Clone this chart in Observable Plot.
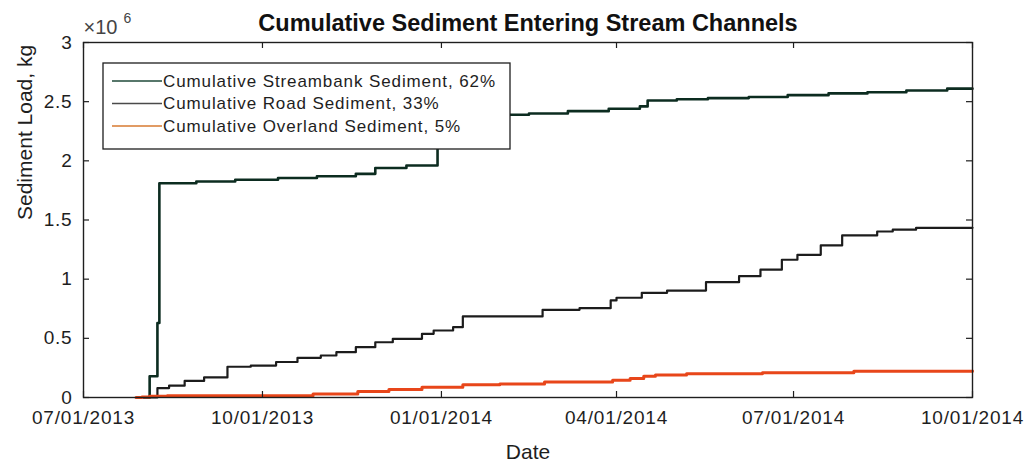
<!DOCTYPE html>
<html><head><meta charset="utf-8">
<script src="https://cdn.jsdelivr.net/npm/d3@7"></script>
<script src="https://cdn.jsdelivr.net/npm/@observablehq/plot@0.6"></script>
<style>
body{margin:0;background:#fff}
#chart{position:relative;width:1032px;height:461px}
#chart g[aria-label="x-axis tick label"] text{letter-spacing:0.8px}
#chart g[aria-label="y-axis tick label"] text{letter-spacing:0.8px}
</style>
</head><body><div id="chart"></div>
<script>
// ---- data ----
const xTickDates = ["2013-07-01","2013-10-01","2014-01-01","2014-04-01","2014-07-01","2014-10-01"];
const yTickValues = [0, 0.5, 1, 1.5, 2, 2.5, 3];
const seriesNames = ["Cumulative Streambank Sediment, 62%","Cumulative Road Sediment, 33%","Cumulative Overland Sediment, 5%"];

const streambankDates = ["2013-08-01","2013-08-04","2013-08-08","2013-08-09","2013-08-28","2013-09-17","2013-10-09","2013-10-29","2013-11-18","2013-11-28","2013-12-14","2013-12-30","2014-02-15","2014-03-07","2014-03-28","2014-04-13","2014-04-17","2014-05-02","2014-05-18","2014-06-08","2014-06-28","2014-07-19","2014-08-08","2014-08-28","2014-09-18","2014-10-01"];
const streambankValues = [0,0.18,0.63,1.81,1.825,1.84,1.855,1.87,1.89,1.94,1.96,2.39,2.40,2.42,2.44,2.46,2.51,2.52,2.53,2.54,2.555,2.57,2.58,2.595,2.61,2.61];

const roadDates = ["2013-08-01","2013-08-08","2013-08-14","2013-08-22","2013-09-01","2013-09-13","2013-09-25","2013-10-08","2013-10-19","2013-10-31","2013-11-08","2013-11-18","2013-11-28","2013-12-07","2013-12-22","2013-12-28","2014-01-07","2014-01-12","2014-02-22","2014-03-13","2014-03-29","2014-04-01","2014-04-14","2014-04-27","2014-05-17","2014-06-03","2014-06-14","2014-06-25","2014-07-03","2014-07-15","2014-07-26","2014-08-13","2014-08-21","2014-09-02","2014-10-01"];
const roadValues = [0,0.08,0.10,0.14,0.17,0.26,0.27,0.30,0.335,0.355,0.383,0.425,0.467,0.496,0.538,0.566,0.594,0.685,0.741,0.755,0.82,0.843,0.885,0.904,0.975,1.025,1.08,1.164,1.206,1.285,1.37,1.403,1.418,1.434,1.434];

const overlandDates = ["2013-07-28","2013-07-31","2013-08-04","2013-08-13","2013-10-27","2013-11-19","2013-12-05","2013-12-22","2014-01-12","2014-01-31","2014-02-23","2014-03-30","2014-04-08","2014-04-15","2014-04-21","2014-05-07","2014-06-15","2014-08-01","2014-10-01"];
const overlandValues = [0,0.005,0.01,0.015,0.03,0.05,0.068,0.087,0.107,0.115,0.13,0.145,0.16,0.18,0.19,0.20,0.21,0.222,0.225];

const seriesColors = ["#0c2c20","#1c1c1c","#e8461a"];
const legendColors = ["#1f4a3a","#4a4a4a","#d77a30"];

// ---- build ----
const toRows = (name, dates, vals) => dates.map((d, i) => ({series: name, date: new Date(d), value: vals[i]}));
const rows = [
  ...toRows(seriesNames[0], streambankDates, streambankValues),
  ...toRows(seriesNames[1], roadDates, roadValues),
  ...toRows(seriesNames[2], overlandDates, overlandValues)
];
const xTicks = xTickDates.map(d => new Date(d));

const W = 1032, H = 461, mL = 83, mR = 60, mT = 42, mB = 64;
const fw = W - mL - mR, fh = H - mT - mB;
const FONT = "'Liberation Sans', Arial, Helvetica, sans-serif";
const ink = "#1e1e1e";

const chart = Plot.plot({
  width: W, height: H,
  marginLeft: mL, marginRight: mR, marginTop: mT, marginBottom: mB,
  style: {fontFamily: FONT, background: "#fff", color: ink, overflow: "visible"},
  x: {type: "utc", domain: [xTicks[0], xTicks[xTicks.length - 1]]},
  y: {domain: [0, 3]},
  marks: [
    Plot.line(rows.filter(r => r.series === seriesNames[0]), {x: "date", y: "value", stroke: seriesColors[0], strokeWidth: 2.6, curve: "step-after"}),
    Plot.line(rows.filter(r => r.series === seriesNames[1]), {x: "date", y: "value", stroke: seriesColors[1], strokeWidth: 2.2, curve: "step-after"}),
    Plot.line(rows.filter(r => r.series === seriesNames[2]), {x: "date", y: "value", stroke: seriesColors[2], strokeWidth: 3, curve: "step-after"}),
    Plot.frame({stroke: ink, strokeWidth: 1.4}),
    Plot.tickX(xTicks, {x: d => d, stroke: ink, strokeWidth: 1.2, insetTop: fh - 6}),
    Plot.tickX(xTicks, {x: d => d, stroke: ink, strokeWidth: 1.2, insetBottom: fh - 6}),
    Plot.tickY(yTickValues, {y: d => d, stroke: ink, strokeWidth: 1.2, insetRight: fw - 6}),
    Plot.tickY(yTickValues, {y: d => d, stroke: ink, strokeWidth: 1.2, insetLeft: fw - 6}),
    Plot.axisX(xTicks, {tickSize: 0, tickPadding: 13, fontSize: 19, tickFormat: d3.utcFormat("%m/%d/%Y"), label: null, fill: ink}),
    Plot.axisY(yTickValues, {tickSize: 0, tickPadding: 11, fontSize: 19, tickFormat: d => String(d), label: null, fill: ink}),
    Plot.text(["Cumulative Sediment Entering Stream Channels"], {frameAnchor: "top", lineAnchor: "bottom", dy: -12, fontSize: 23.5, fontWeight: "bold", fill: "#111"}),
    Plot.text(["Date"], {frameAnchor: "bottom", lineAnchor: "bottom", dy: 61, fontSize: 21, fill: ink}),
    Plot.text(["Sediment Load, kg"], {frameAnchor: "left", rotate: -90, dx: -58, fontSize: 21, fill: ink}),
    Plot.text(["×10"], {frameAnchor: "top-left", textAnchor: "start", lineAnchor: "bottom", dy: -9, dx: 0, fontSize: 20, fill: "#444"}),
    Plot.text(["6"], {frameAnchor: "top-left", textAnchor: "start", lineAnchor: "bottom", dy: -20, dx: 40, fontSize: 14, fill: "#444"})
  ]
});

// ---- legend (drawn into the same svg) ----
const svg = d3.select(chart);
const lg = svg.append("g").attr("font-family", FONT).attr("text-anchor", "start");
const lx = 103, ly = 63, lw = 407, lh = 86;
lg.append("rect").attr("x", lx).attr("y", ly).attr("width", lw).attr("height", lh)
  .attr("fill", "#fff").attr("stroke", ink).attr("stroke-width", 1.3);
seriesNames.forEach((name, i) => {
  const cy = ly + 18 + i * 22.5;
  lg.append("line").attr("x1", lx + 9).attr("x2", lx + 59).attr("y1", cy).attr("y2", cy)
    .attr("stroke", legendColors[i]).attr("stroke-width", 1.6);
  lg.append("text").attr("x", lx + 60).attr("y", cy).attr("dy", "0.35em").attr("text-anchor", "start")
    .attr("font-size", 17).attr("fill", ink).attr("letter-spacing", "0.9px").text(name);
});

document.getElementById("chart").appendChild(chart);
</script>
</body></html>
